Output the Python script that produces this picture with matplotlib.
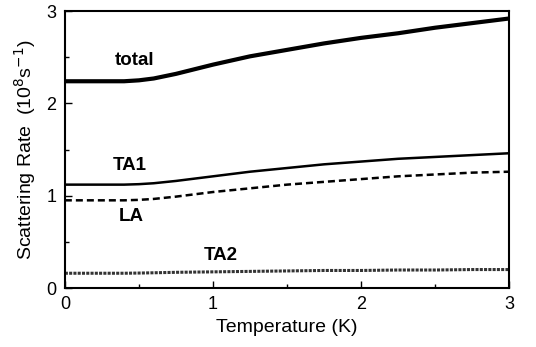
import matplotlib.pyplot as plt
import numpy as np
from matplotlib.ticker import MultipleLocator

plt.rcParams['font.family'] = ['Liberation Sans', 'DejaVu Sans']

# temperature grid (K) and rates (10^8 s^-1)
temp = [0.0, 0.25, 0.4, 0.5, 0.6, 0.75, 0.85, 1.0, 1.25, 1.5, 1.75, 2.0, 2.25, 2.5, 2.75, 3.0]
total = [2.24, 2.24, 2.24, 2.25, 2.27, 2.32, 2.36, 2.42, 2.51, 2.58, 2.65, 2.71, 2.76, 2.82, 2.87, 2.92]
ta1 = [1.12, 1.12, 1.12, 1.125, 1.135, 1.16, 1.18, 1.21, 1.26, 1.30, 1.34, 1.37, 1.40, 1.42, 1.44, 1.46]
la = [0.95, 0.95, 0.95, 0.955, 0.965, 0.99, 1.01, 1.04, 1.08, 1.12, 1.15, 1.18, 1.21, 1.23, 1.25, 1.26]
ta2 = [0.16, 0.16, 0.16, 0.162, 0.165, 0.17, 0.172, 0.175, 0.18, 0.185, 0.19, 0.19, 0.195, 0.195, 0.20, 0.20]


def main():
    fig, ax = plt.subplots(figsize=(5.36, 3.47), dpi=100)
    fig.subplots_adjust(left=0.121, right=0.95, top=0.968, bottom=0.17)

    ax.plot(temp, total, color='black', lw=3)
    ax.plot(temp, ta1, color='black', lw=1.8)
    ax.plot(temp, la, color='black', lw=1.8, ls=(0, (2.8, 1.6)))
    ax.plot(temp, ta2, color='#333333', lw=2.2, ls=(0, (1, 0.4)))

    lab = dict(fontsize=13.5, fontweight='bold', ha='center', va='center')
    ax.text(0.47, 2.46, 'total', **lab)
    ax.text(0.44, 1.33, 'TA1', **lab)
    ax.text(0.45, 0.77, 'LA', **lab)
    ax.text(1.05, 0.35, 'TA2', **lab)

    ax.set_xlim(0, 3)
    ax.set_ylim(0, 3)
    ax.xaxis.set_major_locator(MultipleLocator(1))
    ax.yaxis.set_major_locator(MultipleLocator(1))
    ax.xaxis.set_minor_locator(MultipleLocator(0.5))
    ax.yaxis.set_minor_locator(MultipleLocator(0.5))
    ax.tick_params(which='both', direction='in', labelsize=13, width=1)
    ax.tick_params(which='major', length=5, pad=6)
    ax.tick_params(which='minor', length=3)
    for s in ax.spines.values():
        s.set_linewidth(1.5)

    ax.set_xlabel('Temperature (K)', fontsize=14, labelpad=4)
    ax.set_ylabel('Scattering Rate  (10$^8$s$^{-1}$)', fontsize=14, labelpad=6)

    fig.savefig('out.png', dpi=100)


if __name__ == "__main__":
    main()
